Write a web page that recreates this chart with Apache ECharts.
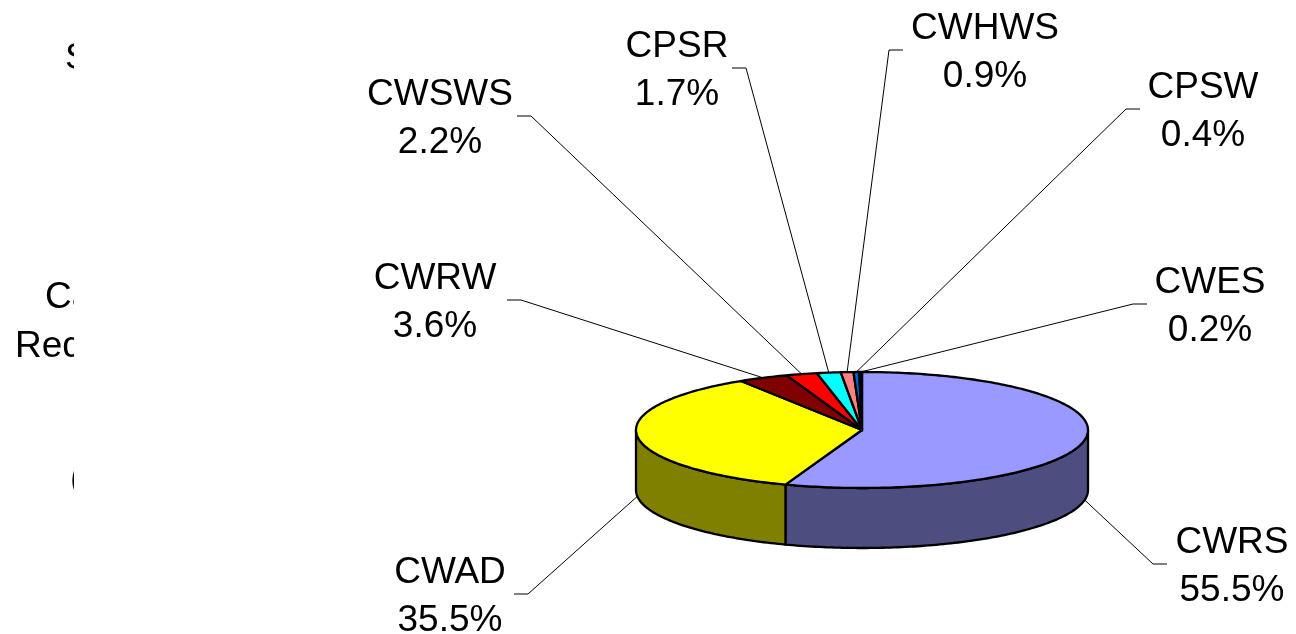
<!DOCTYPE html>
<html>
<head>
<meta charset="utf-8">
<script src="https://cdn.jsdelivr.net/npm/echarts@6/dist/echarts.min.js"></script>
<style>
  html, body { margin: 0; padding: 0; background: #fff; }
  #main { width: 1296px; height: 634px; }
</style>
</head>
<body>
<div id="main"></div>
<script>
const names = ["CWRS", "CWAD", "CWRW", "CWSWS", "CPSR", "CWHWS", "CPSW", "CWES"];
const shares = [55.5, 35.5, 3.6, 2.2, 1.7, 0.9, 0.4, 0.2];
const sliceColors = ["#9999FF", "#FFFF00", "#800000", "#FF0000", "#00FFFF", "#FF8080", "#0066CC", "#000080"];

// where each label sits: text centre x, middle y, outer end of its short tick
const labelSpots = [
  [1232, 564, 1167],
  [450, 594, 514],
  [435, 300, 507],
  [440, 116, 517],
  [677, 68, 732],
  [985, 50, 903],
  [1203, 109, 1140],
  [1210, 304, 1147],
];

// clipped text box on the far left
const sideTexts = ["Sector", "Carbon", "Reduction", "(tCO2)"];
const sideSpots = [[65, 59], [45, 298], [15, 347], [70, 480]];

const FONT = '"Liberation Sans", Arial, sans-serif';
const pie = { cx: 862, cy: 430, rx: 226, ry: 58, depth: 60 };
const TEXT_SHIFT = 3;

const total = shares.reduce((a, b) => a + b, 0);
const startAngles = [];
let acc = 0;
shares.forEach((v) => {
  startAngles.push((acc / total) * 360);
  acc += v;
});

// angle in degrees, clockwise from 12 o'clock
function pt(deg, dy) {
  const r = (deg * Math.PI) / 180;
  return [pie.cx + pie.rx * Math.sin(r), pie.cy - pie.ry * Math.cos(r) + (dy || 0)];
}

function arc(a0, a1, dy) {
  const n = Math.max(2, Math.ceil(a1 - a0));
  const out = [];
  for (let k = 0; k <= n; k++) out.push(pt(a0 + ((a1 - a0) * k) / n, dy));
  return out;
}

function darker(hex) {
  const n = parseInt(hex.slice(1), 16);
  const r = Math.round(((n >> 16) & 255) * 0.5);
  const g = Math.round(((n >> 8) & 255) * 0.5);
  const b = Math.round((n & 255) * 0.5);
  return "rgb(" + r + "," + g + "," + b + ")";
}

function renderSlice(params, api) {
  const i = params.dataIndex;
  const a0 = startAngles[i];
  const a1 = a0 + (api.value(0) / total) * 360;
  const color = sliceColors[i];
  const children = [];

  // outer wall, only the front half shows
  const w0 = Math.max(a0, 90);
  const w1 = Math.min(a1, 270);
  if (w1 > w0) {
    children.push({
      type: "polygon",
      z2: 1,
      shape: { points: arc(w0, w1, 0).concat(arc(w0, w1, pie.depth).reverse()) },
      style: { fill: darker(color), stroke: "#000", lineWidth: 2.3, lineJoin: "round" },
    });
  }

  children.push({
    type: "polygon",
    z2: 2,
    shape: { points: [[pie.cx, pie.cy]].concat(arc(a0, a1, 0)) },
    style: { fill: color, stroke: "#000", lineWidth: 2.3, lineJoin: "round" },
  });

  const mid = (a0 + a1) / 2;
  const attach = pt(mid, mid > 90 && mid < 270 ? pie.depth : 0);
  const spot = labelSpots[i];
  const dir = attach[0] > spot[2] ? 1 : -1;
  children.push({
    type: "polyline",
    z2: 3,
    shape: { points: [attach, [spot[2] + dir * 14, spot[1]], [spot[2], spot[1]]] },
    style: { stroke: "#000", lineWidth: 1, fill: null },
  });

  children.push({
    type: "text",
    z2: 4,
    style: {
      text: names[i] + "\n" + shares[i].toFixed(1) + "%",
      x: spot[0],
      y: spot[1] + TEXT_SHIFT,
      align: "center",
      verticalAlign: "middle",
      fontSize: 37,
      fontFamily: FONT,
      lineHeight: 48,
      fill: "#000",
    },
  });

  return { type: "group", children: children };
}

const chart = echarts.init(document.getElementById("main"), null, { renderer: "canvas" });

const sideGraphics = sideTexts.map((t, i) => ({
  type: "text",
  z: 1,
  x: sideSpots[i][0],
  y: sideSpots[i][1],
  style: {
    text: t,
    align: "left",
    verticalAlign: "middle",
    fontSize: 37,
    fontFamily: FONT,
    fill: "#000",
  },
}));

chart.setOption({
  backgroundColor: "#fff",
  animation: false,
  graphic: sideGraphics.concat([
    {
      type: "rect",
      z: 5,
      shape: { x: 74, y: 0, width: 270, height: 634 },
      style: { fill: "#fff" },
    },
  ]),
  series: [
    {
      type: "custom",
      coordinateSystem: "none",
      renderItem: renderSlice,
      data: shares.map((v) => [v]),
    },
  ],
});
</script>
</body>
</html>
